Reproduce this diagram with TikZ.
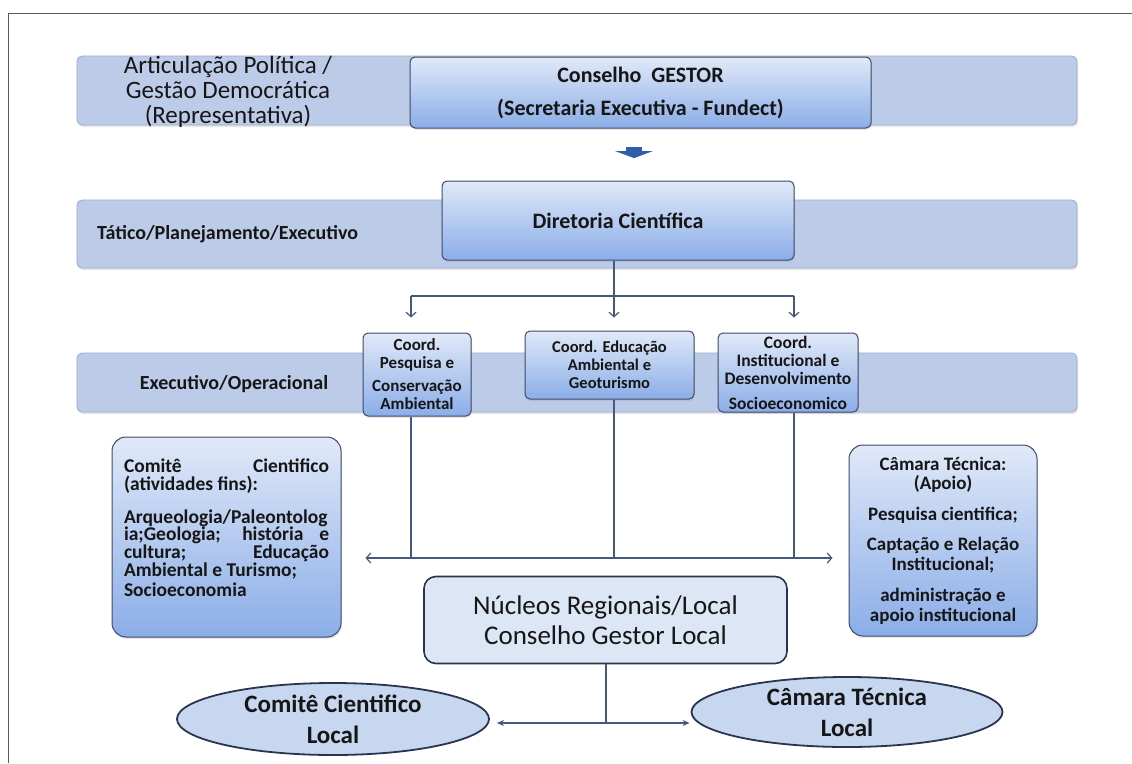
\documentclass[tikz,border=0pt]{standalone}
\usepackage{fontspec}
\setmainfont{Carlito}
\usetikzlibrary{arrows.meta,shadows,shapes.geometric,calc}

\definecolor{bandfill}{HTML}{BCCBE8}
\definecolor{banddraw}{HTML}{9AACCB}
\definecolor{boxtop}{HTML}{E0E9F8}
\definecolor{boxbot}{HTML}{8BADE8}
\definecolor{boxdraw}{HTML}{3E4A66}
\definecolor{outline}{HTML}{2A3450}
\definecolor{linecol}{HTML}{44597D}
\definecolor{nucfill}{HTML}{DDE6F5}
\definecolor{ellfill}{HTML}{C8D7F0}
\definecolor{inkdark}{HTML}{161616}
\definecolor{blockblue}{HTML}{2F5DA8}
\definecolor{framegray}{HTML}{5A5A5A}

\newcommand{\jline}[1]{\makebox[205pt][s]{#1}}
\newcommand{\lline}[1]{\makebox[205pt][l]{#1}}

\begin{document}
\begin{tikzpicture}[x=1pt,y=-1pt,
  softshadow/.style={drop shadow={opacity=0.18, shadow xshift=1pt, shadow yshift=-2pt}},
  band/.style={draw=banddraw, line width=0.8pt, fill=bandfill, rounded corners=5pt,
    inner sep=0pt, softshadow},
  gbox/.style={draw=boxdraw, line width=1pt, top color=boxtop, bottom color=boxbot,
    rounded corners=5pt, inner sep=0pt, align=center, text=inkdark, softshadow},
  bigbox/.style={gbox, rounded corners=14pt},
  bandtxt/.style={inner sep=0pt, text=inkdark, align=center},
  nucbox/.style={draw=outline, line width=1.6pt, fill=nucfill, rounded corners=12pt,
    inner sep=0pt, align=center, text=inkdark},
  ellbox/.style={ellipse, draw=outline, line width=1.8pt, fill=ellfill, inner sep=0pt,
    align=center, text=inkdark, font=\fontsize{25}{31}\selectfont\bfseries},
  wire/.style={draw=linecol, line width=1.4pt},
  arr/.style={wire, -{Straight Barb[length=4.5pt,width=10pt,line width=1.2pt]}},
  arrs/.style={wire, -{Stealth[length=7pt,width=6pt]}}
]
\useasboundingbox (0,0) rectangle (1132,763);
\fill[white] (0,0) rectangle (1132,763);

% outer frame (top and left edges)
\draw[framegray, line width=1pt] (8,763) -- (8,13) -- (1132,13);

% level bands
\node[band, minimum width=1000pt, minimum height=69pt] (band1) at (577,90.5) {};
\node[band, minimum width=1000pt, minimum height=68pt] (band2) at (577,234) {};
\node[band, minimum width=1000pt, minimum height=59pt] (band3) at (577,382.5) {};

% band labels
\node[bandtxt, font=\fontsize{25}{25}\selectfont] (lbl1) at (228,92)
  {Articulação Política /\\Gestão Democrática\\(Representativa)};
\node[bandtxt, anchor=west, font=\fontsize{20}{22}\selectfont\bfseries] (lbl2) at (97,234)
  {Tático/Planejamento/Executivo};
\node[bandtxt, font=\fontsize{20}{22}\selectfont\bfseries] (lbl3) at (234,384)
  {Executivo/Operacional};

% top of the hierarchy
\node[gbox, minimum width=461pt, minimum height=71pt, font=\fontsize{22}{33}\selectfont\bfseries]
  (cons) at (640.5,92.5) {Conselho\ \ GESTOR\\(Secretaria Executiva - Fundect)};
\node[gbox, minimum width=352pt, minimum height=79pt, font=\fontsize{22}{26}\selectfont\bfseries]
  (dir) at (618,220.5) {Diretoria Científica};

% block arrow between the council and the board
\coordinate (blk) at (634,152);
\fill[blockblue] ($(blk)+(-8,-5)$) rectangle ($(blk)+(8,0)$);
\fill[blockblue] ($(blk)+(-19,-1)$) -- ($(blk)+(19,-1)$) -- ($(blk)+(3,5)$)
  -- ($(blk)+(0,6)$) -- ($(blk)+(-3,5)$) -- cycle;

% coordination boxes
\node[gbox, minimum width=108pt, minimum height=83pt, font=\fontsize{17}{18}\selectfont\bfseries]
  (pesq) at (417,374.5) {Coord.\\Pesquisa e\\[5pt]Conservação\\Ambiental};
\node[gbox, minimum width=169pt, minimum height=68pt, font=\fontsize{16.5}{18}\selectfont\bfseries]
  (edu) at (609.5,365) {Coord. Educação\\Ambiental e\\Geoturismo};
\node[gbox, minimum width=140pt, minimum height=79pt, font=\fontsize{17.5}{18}\selectfont\bfseries]
  (inst) at (788,372.5) {Coord.\\Institucional e\\Desenvolvimento\\[7pt]Socioeconomico};

% side boxes
\node[bigbox, minimum width=229pt, minimum height=200pt] (comite) at (226.5,537) {};
\node[bandtxt, align=left, font=\fontsize{19.5}{17.7}\selectfont\bfseries] (comitetxt) at (226.5,528)
  {\jline{Comitê Cientifico}\\
   \lline{(atividades fins):}\\[15pt]
   \jline{Arqueologia/Paleontolog}\\
   \jline{ia;Geologia; história e}\\
   \jline{cultura; Educação}\\
   \lline{Ambiental e Turismo;}\\[3pt]
   \lline{Socioeconomia}};
\node[bigbox, minimum width=188pt, minimum height=191pt, font=\fontsize{19}{19.5}\selectfont\bfseries]
  (camara) at (943,540.5)
  {Câmara Técnica:\\(Apoio)\\[11pt]Pesquisa cientifica;\\[11pt]Captação e Relação\\Institucional;\\[12pt]administração e\\apoio institucional};

% regional level
\node[nucbox, minimum width=363pt, minimum height=87pt, font=\fontsize{27}{30}\selectfont]
  (nucleos) at (605.5,620) {Núcleos Regionais/Local\\Conselho Gestor Local};
\node[ellbox, minimum width=312pt, minimum height=72pt] (ell1) at (333,719)
  {Comitê Cientifico\\Local};
\node[ellbox, minimum width=311pt, minimum height=70pt] (ell2) at (847,712)
  {Câmara Técnica\\Local};

% distribution from the board to the coordinations
\coordinate (t1) at (411,296);
\coordinate (t2) at (614,296);
\coordinate (t3) at (794,296);
\draw[wire] (dir.south -| t2) -- (t2);
\draw[wire] (t1) -- (t3);
\draw[arr, shorten >=15pt] (t1) -- (t1 |- pesq.north);
\draw[arr, shorten >=13pt] (t2) -- (t2 |- edu.north);
\draw[arr, shorten >=15pt] (t3) -- (t3 |- inst.north);

% lower bus towards the side boxes
\coordinate (l1) at (411,558);
\coordinate (l2) at (614,558);
\coordinate (l3) at (794,558);
\draw[wire] (pesq.south -| l1) -- (l1);
\draw[wire] (edu.south -| l2) -- (l2);
\draw[wire] (inst.south -| l3) -- (l3);
\draw[wire] (l1) -- (l3);
\draw[arr, shorten >=24pt] (l1) -- (l1 -| comite.east);
\draw[arr, shorten >=16pt] (l3) -- (l3 -| camara.west);

% regional links to the local bodies
\coordinate (n1) at (606,723);
\draw[wire] (nucleos.south -| n1) -- (n1);
\draw[arrs, shorten >=7pt] (n1) -- (n1 -| ell1.east);
\draw[arrs, shorten >=1pt] (n1) -- (n1 -| ell2.west);
\end{tikzpicture}
\end{document}
